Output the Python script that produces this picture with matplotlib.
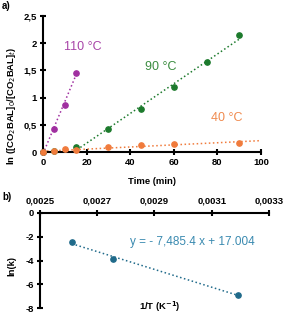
import numpy as np
import matplotlib
matplotlib.use("Agg")
import matplotlib.pyplot as plt
from matplotlib.ticker import FixedLocator, FixedFormatter

plt.rcParams['font.family'] = ['Liberation Sans', 'DejaVu Sans']

# ---- data (panel a) ----
t110 = [0, 5, 10, 15]
y110 = [0, 0.43, 0.86, 1.45]
t90 = [0, 5, 15, 30, 45, 60, 75, 90]
y90 = [0, 0.01, 0.10, 0.42, 0.79, 1.19, 1.65, 2.15]
t40 = [0, 5, 10, 15, 30, 45, 60, 90]
y40 = [0, 0.01, 0.05, 0.03, 0.09, 0.12, 0.14, 0.17]
a_xticks = [0, 20, 40, 60, 80, 100]
a_xlabels = ['0', '20', '40', '60', '80', '100']
a_yticks = [0, 0.5, 1, 1.5, 2, 2.5]
a_ylabels = ['0', '0,5', '1', '1,5', '2', '2,5']

# ---- data (panel b) ----
invT = [0.002611, 0.002754, 0.003193]
lnk = [-2.41, -3.89, -6.89]
b_xticks = [0.0025, 0.0027, 0.0029, 0.0031, 0.0033]
b_xlabels = ['0,0025', '0,0027', '0,0029', '0,0031', '0,0033']
b_yticks = [0, -2, -4, -6, -8]
b_ylabels = ['0', '-2', '-4', '-6', '-8']
equation = 'y = - 7,485.4 x + 17.004'

c110 = '#A02FA0'
c90 = '#1C7A2C'
c40 = '#F07B3C'
cb = '#1F6A8A'

fig = plt.figure(figsize=(2.86, 3.16), dpi=100)

def style(ax):
    for s in ax.spines.values():
        s.set_linewidth(1.5)
    ax.tick_params(direction='inout', length=5, width=1.5, labelsize=6.8, pad=2)
    for lab in ax.get_xticklabels() + ax.get_yticklabels():
        lab.set_fontweight('bold')

# panel a
ax1 = fig.add_axes([43/286, 1-152/316, (261-43)/286, (152-16)/316])
ax1.set_xlim(0, 100)
ax1.set_ylim(0, 2.5)
ax1.spines['top'].set_visible(False)
ax1.spines['right'].set_visible(False)
ax1.xaxis.set_major_locator(FixedLocator(a_xticks))
ax1.xaxis.set_major_formatter(FixedFormatter(a_xlabels))
ax1.yaxis.set_major_locator(FixedLocator(a_yticks))
ax1.yaxis.set_major_formatter(FixedFormatter(a_ylabels))
ax1.tick_params(axis='x', pad=6)

# trendlines
p = np.polyfit(t110, y110, 1)
xx = np.array([0, 15])
ax1.plot(xx, np.polyval(p, xx), ls=':', color=c110, lw=1.1, clip_on=False)
p = np.polyfit(t90[2:], y90[2:], 1)
xx = np.array([-p[1]/p[0], 90])
ax1.plot(xx, np.polyval(p, xx), ls=':', color=c90, lw=1.1, clip_on=False)
p = np.polyfit(t40, y40, 1)
xx = np.array([0, 100])
ax1.plot(xx, np.polyval(p, xx), ls=':', color=c40, lw=1.1, clip_on=False)

ax1.plot(t110, y110, 'o', color=c110, ms=3.8, clip_on=False, zorder=5)
ax1.plot(t90, y90, 'o', color=c90, ms=3.8, clip_on=False, zorder=5)
ax1.plot(t40, y40, 'o', color=c40, ms=3.8, clip_on=False, zorder=6)

ax1.text(9.6, 1.93, '110 °C', color='#A845A8', fontsize=9, va='center')
ax1.text(47, 1.56, '90 °C', color='#3A8C3F', fontsize=9, va='center')
ax1.text(77, 0.63, '40 °C', color='#F08A4E', fontsize=9, va='center')
style(ax1)

fig.text(152/286, 1-181/316, 'Time (min)', ha='center', va='center', fontsize=6.8, fontweight='bold')
fig.text(12/286, 1-106/316, 'ln ([CO$_2$BAL]$_0$/[CO$_2$BAL]$_t$)', ha='center', va='center',
         rotation=90, fontsize=6.8, fontweight='bold')
fig.text(2/286, 1-6/316, 'a)', ha='left', va='center', fontsize=7, fontweight='bold')

# panel b
ax2 = fig.add_axes([40/286, 1-308/316, (269-40)/286, (308-213)/316])
ax2.set_xlim(0.0025, 0.0033)
ax2.set_ylim(-8, 0)
ax2.spines['bottom'].set_visible(False)
ax2.spines['right'].set_visible(False)
ax2.xaxis.tick_top()
ax2.xaxis.set_major_locator(FixedLocator(b_xticks))
ax2.xaxis.set_major_formatter(FixedFormatter(b_xlabels))
ax2.yaxis.set_major_locator(FixedLocator(b_yticks))
ax2.yaxis.set_major_formatter(FixedFormatter(b_ylabels))
p = np.polyfit(invT, lnk, 1)
xx = np.array([invT[0], invT[-1]])
ax2.plot(xx, np.polyval(p, xx), ls=':', color=cb, lw=1.1)
ax2.plot(invT, lnk, 'o', color=cb, ms=3.8, zorder=5)
ax2.text(0.002813, -2.45, equation, color='#3A8AB0', fontsize=8.5, va='center')
style(ax2)
ax2.tick_params(axis='x', pad=3)

fig.text(160/286, 1-307/316, '1/T (K$^{\\mathbf{-1}}$)', ha='center', va='center', fontsize=6.8, fontweight='bold')
fig.text(12/286, 1-266/316, 'ln(k)', ha='center', va='center', rotation=90, fontsize=6.8, fontweight='bold')
fig.text(2/286, 1-197/316, 'b)', ha='left', va='center', fontsize=7, fontweight='bold')

fig.savefig('out.png', dpi=100)
